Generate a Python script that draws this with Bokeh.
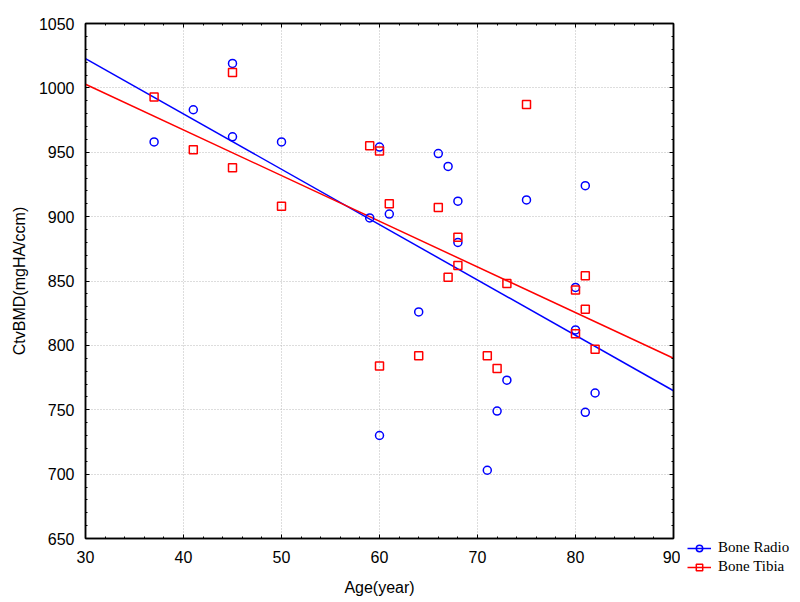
import numpy as np
from bokeh.plotting import figure
from bokeh.layouts import row
from bokeh.models import Range1d, LinearAxis, SingleIntervalTicker, Legend, LegendItem
from bokeh.embed import file_html
from bokeh.resources import INLINE

# Bone Radio (blue circles)
radio_age = [37, 41, 45, 45, 50, 59, 60, 60, 61, 64, 66, 67, 68, 68, 71, 72, 73, 75, 80, 80, 81, 81, 82]
radio_bmd = [958, 983, 1019, 962, 958, 899, 954, 730, 902, 826, 949, 939, 912, 880, 703, 749, 773, 913, 845, 812, 924, 748, 763]

# Bone Tibia (red squares)
tibia_age = [37, 41, 45, 45, 50, 59, 60, 60, 61, 64, 66, 67, 68, 68, 71, 72, 73, 75, 80, 80, 81, 81, 82]
tibia_bmd = [993, 952, 1012, 938, 908, 955, 951, 784, 910, 792, 907, 853, 884, 862, 792, 782, 848, 987, 843, 809, 854, 828, 797]

series_names = ["Bone Radio", "Bone Tibia"]

x_min, x_max, x_step = 30, 90, 10
y_min, y_max, y_step = 650, 1050, 50

BLUE = "#0000ff"
RED = "#ff0000"

H = 600

p = figure(width=680, height=H, output_backend="svg", toolbar_location=None,
           x_range=Range1d(x_min, x_max), y_range=Range1d(y_min, y_max),
           min_border_left=85, min_border_right=7, min_border_top=23, min_border_bottom=62,
           background_fill_color="white", border_fill_color="white")

xt = SingleIntervalTicker(interval=x_step, num_minor_ticks=5)
yt = SingleIntervalTicker(interval=y_step, num_minor_ticks=5)
p.xaxis.ticker = xt
p.yaxis.ticker = yt
p.xgrid.ticker = xt
p.ygrid.ticker = yt

for ax in (p.xaxis[0], p.yaxis[0]):
    ax.major_label_text_font = "Liberation Sans"
    ax.major_label_text_font_size = "16px"
    ax.major_label_text_color = "black"
    ax.axis_label_text_font = "Liberation Sans"
    ax.axis_label_text_font_size = "16px"
    ax.axis_label_text_font_style = "normal"
    ax.axis_label_text_color = "black"
    ax.axis_line_color = "black"
    ax.axis_line_width = 1.5
    ax.major_tick_in = 4
    ax.major_tick_out = 0
    ax.minor_tick_in = 2
    ax.minor_tick_out = 0
    ax.major_tick_line_color = "black"
    ax.minor_tick_line_color = "black"

p.xaxis.axis_label = "Age(year)"
p.yaxis.axis_label = "CtvBMD(mgHA/ccm)"
p.xaxis.major_label_standoff = 12
p.xaxis.axis_label_standoff = 13
p.yaxis.major_label_standoff = 11
p.yaxis.axis_label_standoff = 8

x_blank = {v: "" for v in range(x_min, x_max + 1, x_step)}
y_blank = {v: "" for v in range(y_min, y_max + 1, y_step)}

top_ax = LinearAxis(ticker=xt, major_label_overrides=x_blank,
                    major_label_text_font_size="0px", major_label_standoff=0,
                    major_tick_in=4, major_tick_out=0, minor_tick_in=2, minor_tick_out=0,
                    axis_line_color="black", axis_line_width=1.5)
right_ax = LinearAxis(ticker=yt, major_label_overrides=y_blank,
                      major_label_text_font_size="0px", major_label_standoff=0,
                      major_tick_in=4, major_tick_out=0, minor_tick_in=2, minor_tick_out=0,
                      axis_line_color="black", axis_line_width=1.5)
p.add_layout(top_ax, "above")
p.add_layout(right_ax, "right")

p.outline_line_color = "black"
p.outline_line_width = 1.5

for g in (p.xgrid[0], p.ygrid[0]):
    g.grid_line_color = "#bbbbbb"
    g.grid_line_dash = "1 2"
    g.grid_line_width = 1

xs = np.array([x_min, x_max], dtype=float)
rb = np.polyfit(radio_age, radio_bmd, 1)
tb = np.polyfit(tibia_age, tibia_bmd, 1)

p.line(xs, np.polyval(rb, xs), line_color=BLUE, line_width=1.5)
p.line(xs, np.polyval(tb, xs), line_color=RED, line_width=1.5)

p.scatter(radio_age, radio_bmd, marker="circle", size=8, line_color=BLUE,
          fill_color=None, line_width=1.5)
p.scatter(tibia_age, tibia_bmd, marker="square", size=8, line_color=RED,
          fill_color=None, line_width=1.5)

# Legend panel to the right (outside the plot frame); its own renderers hold
# the series' first points, which lie outside this panel's ranges (not drawn)
lg = figure(width=118, height=H, output_backend="svg", toolbar_location=None,
            x_axis_type=None, y_axis_type=None,
            x_range=Range1d(0, 1), y_range=Range1d(0, 1),
            min_border_left=0, min_border_right=0, min_border_top=0, min_border_bottom=0,
            outline_line_color=None, background_fill_color="white", border_fill_color="white")
try:
    lg.frame_align = False
except Exception:
    pass
lg.xgrid.visible = False
lg.ygrid.visible = False
lr_line = lg.line(radio_age[:1], radio_bmd[:1], line_color=BLUE, line_width=1.5)
lr_pts = lg.scatter(radio_age[:1], radio_bmd[:1], marker="circle", size=8, line_color=BLUE,
                    fill_color=None, line_width=1.5)
lt_line = lg.line(tibia_age[:1], tibia_bmd[:1], line_color=RED, line_width=1.5)
lt_pts = lg.scatter(tibia_age[:1], tibia_bmd[:1], marker="square", size=8, line_color=RED,
                    fill_color=None, line_width=1.5)

legend = Legend(items=[LegendItem(label=series_names[0], renderers=[lr_line, lr_pts]),
                       LegendItem(label=series_names[1], renderers=[lt_line, lt_pts])],
                location=(7, 25), padding=0, margin=0, spacing=2,
                glyph_width=24, glyph_height=16, label_standoff=7,
                label_text_font="Liberation Serif", label_text_font_size="15px",
                label_text_color="black", border_line_color=None,
                background_fill_color=None)
lg.add_layout(legend)

layout = row(p, lg, spacing=0)
open("out.html", "w").write(file_html(layout, INLINE))
